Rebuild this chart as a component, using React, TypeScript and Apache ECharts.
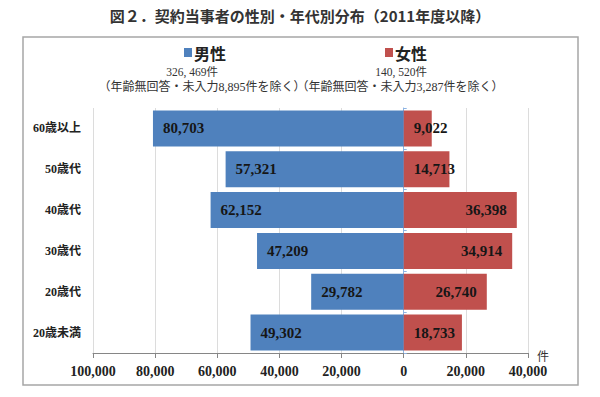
import React, { useEffect, useRef } from "react";
import * as echarts from "echarts";

const categories = ["60歳以上", "50歳代", "40歳代", "30歳代", "20歳代", "20歳未満"];
const maleValues = [80703, 57321, 62152, 47209, 29782, 49302];
const femaleValues = [9022, 14713, 36398, 34914, 26740, 18733];
const titleText = "図２．契約当事者の性別・年代別分布（2011年度以降）";
const maleName = "男性";
const femaleName = "女性";
const maleTotal = "326, 469件";
const femaleTotal = "140, 520件";
const maleNote = "（年齢無回答・未入力8,895件を除く）";
const femaleNote = "（年齢無回答・未入力3,287件を除く）";
const unitLabel = "件";

const SERIF = "'Liberation Serif', 'Noto Sans CJK JP', serif";
const GOTHIC = "'Noto Sans CJK JP', sans-serif";
const BLUE = "#4F81BD";
const RED = "#C0504D";

const fmt = (v: number) => Math.abs(v).toLocaleString("en-US");

export default function App() {
  const ref = useRef<HTMLDivElement>(null);
  useEffect(() => {
    if (!ref.current) return;
    const chart = echarts.init(ref.current, null, { renderer: "svg" });
    const labelBase = {
      show: true,
      fontFamily: SERIF,
      fontWeight: "bold" as const,
      fontSize: 15,
      color: "#161616",
      distance: 10,
      formatter: (p: any) => fmt(p.value),
    };
    chart.setOption({
      animation: false,
      backgroundColor: "#ffffff",
      grid: { left: 93, right: 72, top: 108, bottom: 44, containLabel: false },
      xAxis: {
        type: "value",
        min: -100000,
        max: 40000,
        interval: 20000,
        axisLine: { show: true, onZero: false, lineStyle: { color: "#868686", width: 1 } },
        axisTick: { show: true, length: 5, lineStyle: { color: "#868686" } },
        axisLabel: {
          fontFamily: SERIF,
          fontWeight: "bold",
          fontSize: 14,
          color: "#222",
          margin: 11,
          formatter: (v: number) => fmt(v),
        },
        splitLine: { show: true, lineStyle: { color: "#dcdcdc", width: 1 } },
      },
      yAxis: [
        {
          type: "category",
          data: categories,
          inverse: true,
          axisLine: { show: true, onZero: true, lineStyle: { color: "#8eb4e3", width: 1 } },
          axisTick: { show: true, length: 3, inside: true, lineStyle: { color: "#8eb4e3" } },
          axisLabel: { show: false },
          splitLine: { show: false },
        },
        {
          type: "category",
          data: categories,
          inverse: true,
          position: "left",
          axisLine: { show: false, onZero: false },
          axisTick: { show: false },
          axisLabel: {
            show: true,
            fontFamily: SERIF,
            fontWeight: "bold",
            fontSize: 12,
            color: "#222",
            margin: 12,
          },
          splitLine: { show: false },
        },
      ],
      series: [
        {
          name: maleName,
          type: "bar",
          yAxisIndex: 0,
          data: maleValues.map((v) => -v),
          barWidth: "88%",
          barGap: "-100%",
          itemStyle: { color: BLUE },
          label: { ...labelBase, position: "insideLeft" },
        },
        {
          name: femaleName,
          type: "bar",
          yAxisIndex: 0,
          data: femaleValues.map((v) => ({
            value: v,
            label: { position: v < 20000 ? "insideLeft" : "insideRight" },
          })),
          barWidth: "88%",
          barGap: "-100%",
          itemStyle: { color: RED },
          label: { ...labelBase },
        },
      ],
      graphic: [
        {
          type: "text",
          left: "center",
          top: 8,
          style: {
            text: titleText,
            font: `bold 15px ${GOTHIC}`,
            fill: "#333",
          },
        },
        {
          type: "rect",
          shape: { x: 23, y: 37, width: 555, height: 348 },
          style: { fill: "none", stroke: "#a6a6a6", lineWidth: 1.5 },
          silent: true,
        },
        {
          type: "rect",
          shape: { x: 184, y: 48, width: 8, height: 9 },
          style: { fill: BLUE },
        },
        {
          type: "text",
          x: 194,
          y: 53,
          style: {
            text: maleName,
            font: `bold 16px ${GOTHIC}`,
            fill: "#222",
            textVerticalAlign: "middle",
          },
        },
        {
          type: "rect",
          shape: { x: 385, y: 48, width: 8, height: 9 },
          style: { fill: RED },
        },
        {
          type: "text",
          x: 395,
          y: 53,
          style: {
            text: femaleName,
            font: `bold 16px ${GOTHIC}`,
            fill: "#222",
            textVerticalAlign: "middle",
          },
        },
        {
          type: "text",
          x: 192,
          y: 72,
          style: {
            text: maleTotal,
            font: `11.5px ${SERIF}`,
            fill: "#333",
            textAlign: "center",
            textVerticalAlign: "middle",
          },
        },
        {
          type: "text",
          x: 202,
          y: 87,
          style: {
            text: maleNote,
            font: `12px ${SERIF}`,
            fill: "#333",
            textAlign: "center",
            textVerticalAlign: "middle",
          },
        },
        {
          type: "text",
          x: 401,
          y: 72,
          style: {
            text: femaleTotal,
            font: `11.5px ${SERIF}`,
            fill: "#333",
            textAlign: "center",
            textVerticalAlign: "middle",
          },
        },
        {
          type: "text",
          x: 400,
          y: 87,
          style: {
            text: femaleNote,
            font: `12px ${SERIF}`,
            fill: "#333",
            textAlign: "center",
            textVerticalAlign: "middle",
          },
        },
        {
          type: "text",
          x: 543,
          y: 357,
          style: {
            text: unitLabel,
            font: `12px ${SERIF}`,
            fill: "#333",
            textAlign: "center",
            textVerticalAlign: "middle",
          },
        },
      ],
    });
    return () => chart.dispose();
  }, []);
  return (
    <div
      ref={ref}
      style={{ position: "fixed", left: 0, top: 0, width: 600, height: 397 }}
    />
  );
}
